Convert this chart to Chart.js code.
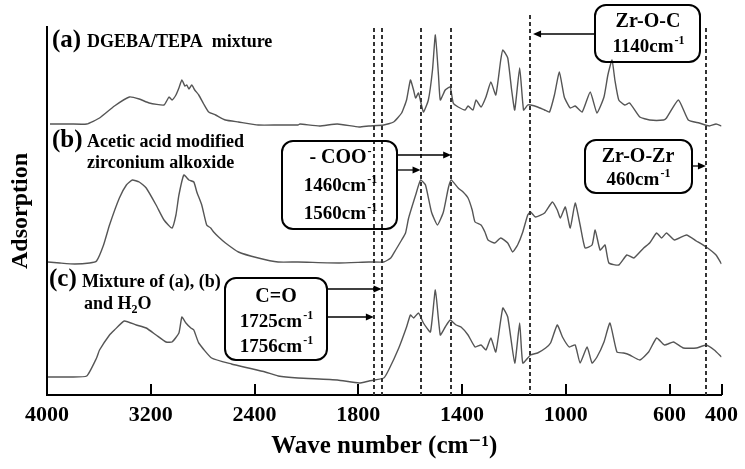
<!DOCTYPE html>
<html>
<head>
<meta charset="utf-8">
<script src="https://cdn.jsdelivr.net/npm/chart.js@4.4.1/dist/chart.umd.min.js"></script>
<style>
  html, body { margin: 0; padding: 0; background: #fff; }
  #wrap { width: 745px; height: 469px; position: relative; }
</style>
</head>
<body>
<div id="wrap"><canvas id="ftirChart"></canvas></div>
<script>
// --- FTIR SPECTRA (Chart.js) ---
// wavenumbers (cm-1) and stacked heights (offset units of the y axis)

const waveA = [3977, 3824, 3694, 3595, 3480, 3365, 3289, 3212, 3098, 3059, 3036, 3006, 2983, 2960, 2937, 2922, 2906, 2884, 2861, 2830,
    2792, 2754, 2700, 2624, 2524, 2371, 2218, 2065, 2050, 1950, 1881, 1797, 1759, 1702, 1664, 1633, 1614, 1599, 1587, 1579,
    1568, 1549, 1530, 1514, 1503, 1491, 1484, 1465, 1446, 1434, 1415, 1388, 1377, 1358, 1346, 1327, 1308, 1289, 1270, 1251,
    1243, 1224, 1209, 1197, 1178, 1163, 1147, 1136, 1109, 1082, 1063, 1044, 1025, 1006, 983, 964, 937, 906, 880, 853,
    838, 822, 811, 796, 773, 754, 715, 677, 623, 612, 566, 528, 486, 447, 421, 400];
const valA = [271, 271, 271, 277, 289, 298, 296, 292, 290, 298, 295, 300, 307, 315, 309, 310, 306, 310, 305, 300,
    291, 283, 280, 275, 273, 270, 270, 270, 271, 269, 271, 268, 269, 270, 273, 282, 295, 315, 305, 297,
    302, 283, 295, 325, 360, 320, 295, 305, 308, 292, 288, 285, 289, 285, 295, 288, 298, 313, 300, 335,
    345, 337, 305, 285, 327, 285, 290, 290, 288, 285, 283, 300, 323, 298, 287, 289, 283, 303, 282, 298,
    320, 335, 315, 295, 290, 292, 278, 275, 275, 277, 295, 275, 272, 269, 271, 269];

const waveB = [3992, 3901, 3786, 3671, 3618, 3564, 3518, 3442, 3388, 3342, 3289, 3235, 3159, 3098, 3036, 3006, 2983, 2945, 2906, 2868,
    2845, 2807, 2769, 2738, 2715, 2677, 2624, 2524, 2371, 2218, 2065, 1874, 1759, 1702, 1675, 1656, 1633, 1618, 1606, 1579,
    1560, 1541, 1518, 1495, 1472, 1453, 1442, 1415, 1396, 1377, 1361, 1350, 1327, 1312, 1300, 1274, 1251, 1224, 1205, 1186,
    1166, 1147, 1136, 1117, 1082, 1052, 1033, 1021, 1002, 983, 964, 945, 926, 899, 887, 868, 849, 834, 796, 765,
    738, 700, 677, 650, 631, 612, 581, 535, 497, 459, 421, 400];
const valB = [133, 132, 131, 132, 134, 150, 170, 197, 210, 215, 213, 207, 190, 175, 167, 180, 200, 220, 215, 213,
    203, 190, 170, 167, 163, 158, 152, 143, 137, 133, 133, 132, 133, 133, 137, 145, 155, 162, 177, 200,
    215, 210, 183, 170, 183, 207, 215, 207, 203, 197, 185, 173, 170, 163, 155, 152, 157, 152, 143, 150,
    163, 180, 183, 178, 182, 193, 185, 177, 188, 167, 192, 170, 147, 150, 165, 145, 150, 132, 130, 140,
    137, 147, 152, 162, 157, 162, 155, 160, 154, 148, 140, 131];

const waveC = [3992, 3824, 3694, 3618, 3595, 3518, 3480, 3404, 3312, 3235, 3159, 3082, 3036, 2983, 2960, 2929, 2891, 2868, 2830, 2731,
    2578, 2448, 2318, 2218, 2065, 1881, 1797, 1759, 1702, 1683, 1644, 1614, 1599, 1587, 1568, 1549, 1522, 1503, 1484, 1465,
    1446, 1423, 1404, 1377, 1350, 1327, 1308, 1289, 1270, 1243, 1224, 1197, 1178, 1166, 1136, 1109, 1078, 1059, 1033, 1013,
    987, 964, 945, 918, 899, 880, 853, 830, 803, 777, 754, 715, 681, 650, 620, 585, 547, 497, 459, 428, 400];
const valC = [18, 18, 19, 37, 45, 60, 65, 74, 70, 67, 60, 53, 53, 62, 78, 72, 67, 65, 52, 37,
    31, 27, 23, 19, 17, 15, 12, 14, 17, 25, 47, 68, 80, 77, 82, 72, 63, 105, 60, 68,
    75, 70, 68, 60, 48, 50, 45, 57, 43, 87, 78, 32, 72, 32, 40, 42, 47, 52, 70, 58,
    48, 50, 32, 48, 32, 38, 53, 72, 43, 42, 40, 35, 43, 57, 50, 53, 47, 47, 50, 45, 38];

const tickWaves = [4000, 3200, 2400, 1800, 1400, 1000, 600, 400];
// dashed guide lines, where they sit in the figure
const markerWaves = [1740, 1710, 1560, 1442, 1138, 460];

const SERIF = "'Liberation Serif', 'DejaVu Serif', serif";

// the spectrometer scale halves above 2000 cm-1, so map wavenumber onto a linear axis
function toAxis(w) { return w >= 2000 ? (4000 - w) / 2 : 1000 + (2000 - w); }
function fromAxis(t) { return t <= 1000 ? 4000 - 2 * t : 2000 - (t - 1000); }

function points(waves, vals) {
    return waves.map((w, i) => ({ x: toAxis(w), y: vals[i] }));
}

// small text helpers for the annotations
function font(size) { return `bold ${size}px ${SERIF}`; }

function supText(ctx, base, sup, cx, cy, size) {
    const small = Math.round(size * 0.62);
    ctx.font = font(size);
    const w1 = ctx.measureText(base).width;
    ctx.font = font(small);
    const w2 = ctx.measureText(sup).width;
    const left = cx - (w1 + w2) / 2;
    ctx.textAlign = 'left';
    ctx.textBaseline = 'middle';
    ctx.font = font(size);
    ctx.fillText(base, left, cy);
    ctx.font = font(small);
    ctx.fillText(sup, left + w1 + 1, cy - size * 0.32);
}

function box(ctx, x, y, w, h) {
    ctx.beginPath();
    if (ctx.roundRect) ctx.roundRect(x, y, w, h, 11);
    else ctx.rect(x, y, w, h);
    ctx.lineWidth = 2;
    ctx.stroke();
}

function arrow(ctx, x1, y, x2) {
    const d = x2 > x1 ? 1 : -1;
    ctx.lineWidth = 1.3;
    ctx.beginPath();
    ctx.moveTo(x1, y);
    ctx.lineTo(x2 - d * 4, y);
    ctx.stroke();
    ctx.beginPath();
    ctx.moveTo(x2, y);
    ctx.lineTo(x2 - d * 8, y - 3.5);
    ctx.lineTo(x2 - d * 8, y + 3.5);
    ctx.closePath();
    ctx.fill();
}

const annotations = {
    id: 'annotations',
    afterDraw(chart) {
        const { ctx, chartArea: area, scales: { x: xs } } = chart;
        const px = w => xs.getPixelForValue(toAxis(w));
        ctx.save();
        ctx.fillStyle = '#000';
        ctx.strokeStyle = '#000';

        // 1. inner tick marks
        ctx.lineWidth = 2;
        tickWaves.slice(1).forEach(w => {
            const x = Math.round(px(w));
            ctx.beginPath();
            ctx.moveTo(x, area.bottom);
            ctx.lineTo(x, area.bottom - 11);
            ctx.stroke();
        });

        // 2. dashed guide lines
        ctx.strokeStyle = '#333';
        ctx.lineWidth = 2;
        ctx.setLineDash([4, 3]);
        markerWaves.forEach(w => {
            const x = Math.round(px(w));
            const top = w === 1138 ? 15 : area.top + 1;
            ctx.beginPath();
            ctx.moveTo(x, top);
            ctx.lineTo(x, area.bottom);
            ctx.stroke();
        });
        ctx.setLineDash([]);
        ctx.strokeStyle = '#000';

        // 3. trace labels
        ctx.textAlign = 'left';
        ctx.textBaseline = 'middle';
        ctx.font = font(25);
        ctx.fillText('(a)', 52, 41);
        ctx.fillText('(b)', 52, 141);
        ctx.fillText('(c)', 49, 280);
        ctx.font = font(18);
        ctx.fillText('DGEBA/TEPA  mixture', 87, 42);
        ctx.fillText('Acetic acid modified', 87, 142);
        ctx.fillText('zirconium alkoxide', 87, 163);
        ctx.fillText('Mixture of (a), (b)', 82, 282);
        ctx.fillText('and H', 84, 304);
        let hx = 84 + ctx.measureText('and H').width;
        ctx.font = font(12);
        ctx.fillText('2', hx, 310);
        hx += ctx.measureText('2').width;
        ctx.font = font(18);
        ctx.fillText('O', hx, 304);

        // 4. -COO- box
        box(ctx, 282, 141, 115, 88);
        supText(ctx, '- COO', '-', 340, 158, 20);
        supText(ctx, '1460cm', '-1', 340, 186, 19);
        supText(ctx, '1560cm', '-1', 340, 214, 19);
        arrow(ctx, 397, 155, px(markerWaves[3]));
        arrow(ctx, 397, 170, px(markerWaves[2]));

        // 5. C=O box
        box(ctx, 225, 278, 102, 82);
        ctx.font = font(20);
        ctx.textAlign = 'center';
        ctx.fillText('C=O', 276, 297);
        supText(ctx, '1725cm', '-1', 276, 322, 19);
        supText(ctx, '1756cm', '-1', 276, 347, 19);
        arrow(ctx, 327, 289, px(markerWaves[1]));
        arrow(ctx, 327, 317, px(markerWaves[0]));

        // 6. Zr-O-C box
        box(ctx, 595, 5, 105, 57);
        ctx.font = font(20);
        ctx.textAlign = 'center';
        ctx.fillText('Zr-O-C', 648, 22);
        supText(ctx, '1140cm', '-1', 648, 47, 19);
        arrow(ctx, 595, 34, px(markerWaves[4]) + 3);

        // 7. Zr-O-Zr box
        box(ctx, 585, 140, 107, 53);
        ctx.font = font(20);
        ctx.textAlign = 'center';
        ctx.fillText('Zr-O-Zr', 638, 157);
        supText(ctx, '460cm', '-1', 638, 180, 19);
        arrow(ctx, 692, 166, px(markerWaves[5]));

        ctx.restore();
    }
};

function renderSpectra() {
    const ctx = document.getElementById('ftirChart');
    const line = (label, data) => ({
        label: label,
        data: data,
        borderColor: '#555',
        borderWidth: 1.4,
        pointRadius: 0,
        tension: 0.15,
        fill: false
    });

    new Chart(ctx, {
        type: 'line',
        data: {
            datasets: [
                line('(a) DGEBA/TEPA mixture', points(waveA, valA)),
                line('(b) Acetic acid modified zirconium alkoxide', points(waveB, valB)),
                line('(c) Mixture of (a), (b) and H2O', points(waveC, valC))
            ]
        },
        options: {
            responsive: true,
            maintainAspectRatio: false,
            animation: false,
            layout: { padding: { top: 27, right: 18, bottom: 3, left: 0 } },
            plugins: { legend: { display: false }, tooltip: { enabled: false } },
            scales: {
                x: {
                    type: 'linear',
                    min: 0,
                    max: 2600,
                    grid: { display: false, drawTicks: false },
                    border: { display: true, color: '#000', width: 2 },
                    afterBuildTicks: scale => {
                        scale.ticks = tickWaves.map(w => ({ value: toAxis(w) }));
                    },
                    // pin the axis band so the plot bottom lands where the figure has it
                    afterFit: scale => { scale.height = 71; },
                    ticks: {
                        autoSkip: false,
                        maxRotation: 0,
                        padding: 7,
                        color: '#000',
                        font: { family: SERIF, size: 22, weight: 'bold' },
                        callback: v => String(Math.round(fromAxis(v)))
                    },
                    title: {
                        display: true,
                        text: 'Wave number (cm\u207B\u00B9)',
                        color: '#000',
                        font: { family: SERIF, size: 25, weight: 'bold' },
                        padding: { top: 5, bottom: 4 }
                    }
                },
                y: {
                    min: 0,
                    max: 368,
                    grid: { display: false, drawTicks: false },
                    border: { display: true, color: '#000', width: 2 },
                    afterFit: scale => { scale.width = 47; },
                    ticks: { display: false },
                    title: {
                        display: true,
                        text: 'Adsorption',
                        color: '#000',
                        font: { family: SERIF, size: 24, weight: 'bold' },
                        padding: { top: 6, bottom: 12 }
                    }
                }
            }
        },
        plugins: [annotations]
    });
}

document.addEventListener('DOMContentLoaded', renderSpectra);
</script>
</body>
</html>
